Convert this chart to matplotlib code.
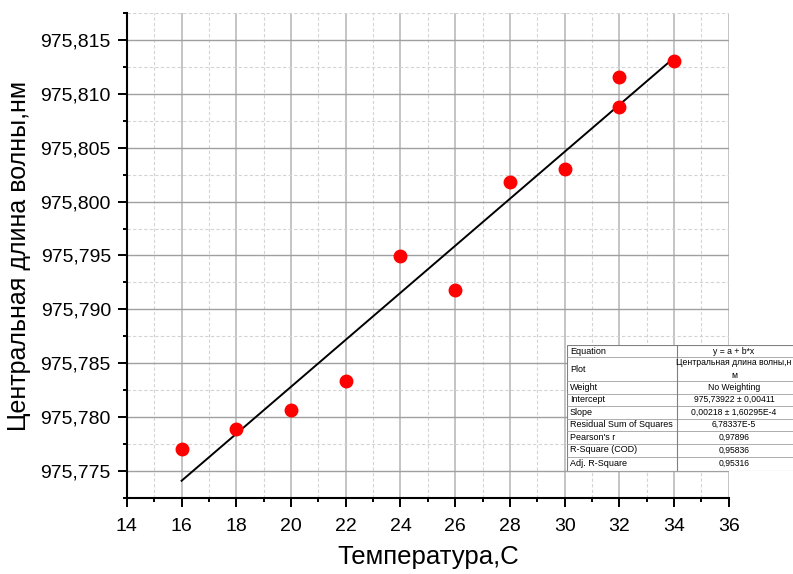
import numpy as np
import matplotlib
matplotlib.use("Agg")
from matplotlib import pyplot as plt
from matplotlib.ticker import MultipleLocator, FuncFormatter

plt.rcParams['font.family'] = ['Liberation Sans', 'DejaVu Sans']

# температура и центральная длина волны
temp = [16, 18, 20, 22, 24, 26, 28, 30, 32, 32, 34]
wavelength = [975.77704, 975.77889, 975.78068, 975.78340, 975.79494, 975.79176,
              975.80185, 975.80306, 975.81160, 975.80882, 975.81306]

# линейная аппроксимация y = a + b*x
intercept = 975.73922
slope = 0.00218

fit_rows = [
    ("Equation", "y = a + b*x"),
    ("Plot", "Центральная длина волны,н\nм"),
    ("Weight", "No Weighting"),
    ("Intercept", "975,73922 ± 0,00411"),
    ("Slope", "0,00218 ± 1,60295E-4"),
    ("Residual Sum of Squares", "6,78337E-5"),
    ("Pearson's r", "0,97896"),
    ("R-Square (COD)", "0,95836"),
    ("Adj. R-Square", "0,95316"),
]

fig = plt.figure(figsize=(7.93, 5.74), dpi=100)
ax = fig.add_axes([0.160, 0.1324, 0.759, 0.845])

ax.plot(temp, wavelength, 'o', color='red', markersize=9, zorder=3)
xf = np.array([min(temp), max(temp)])
ax.plot(xf, intercept + slope * xf, color='black', lw=1.4, zorder=2)

ax.set_xlim(14, 36)
ax.set_ylim(975.7725, 975.8175)
ax.xaxis.set_major_locator(MultipleLocator(2))
ax.xaxis.set_minor_locator(MultipleLocator(1))
ax.yaxis.set_major_locator(MultipleLocator(0.005))
ax.yaxis.set_minor_locator(MultipleLocator(0.0025))
ax.yaxis.set_major_formatter(FuncFormatter(lambda v, p: f"{v:.3f}".replace('.', ',')))

ax.xaxis.grid(True, which='major', color='#c4c4c4', lw=1.4)
ax.yaxis.grid(True, which='major', color='#a0a0a0', lw=1.0)
ax.grid(which='minor', color='#d4d4d4', lw=0.8, ls=(0, (3, 2)))
ax.set_axisbelow(True)

for s in ('top', 'right'):
    ax.spines[s].set_visible(False)
for s in ('left', 'bottom'):
    ax.spines[s].set_linewidth(1.5)

ax.tick_params(which='major', direction='out', length=6.5, width=1.4, labelsize=14)
ax.tick_params(axis='y', which='major', pad=5)
ax.tick_params(axis='x', which='major', pad=8)
ax.tick_params(which='minor', direction='out', length=3, width=1.4)

ax.set_xlabel("Температура,С", fontsize=18.5, labelpad=7)
ax.set_ylabel("Центральная длина волны,нм", fontsize=18, labelpad=7)

# таблица параметров аппроксимации
tx0, ty0, tw, th = 567, 345, 240, 126
tab = fig.add_axes([tx0 / 793, 1 - (ty0 + th) / 574, tw / 793, th / 574])
tab.set_xlim(0, tw)
tab.set_ylim(th, 0)
tab.axis('off')
tab.add_patch(plt.Rectangle((0, 0), tw, th, facecolor='white', edgecolor='#808080', lw=0.8))
col = 110
heights = [12, 24, 12.5, 12.5, 12.5, 12.5, 12.5, 13, 14.5]
y = 0
for (name, val), h in zip(fit_rows, heights):
    tab.text(3, y + h / 2, name, fontsize=6.5, va='center', ha='left')
    tab.text(col + 57, y + h / 2, val, fontsize=6.2, va='center', ha='center',
             linespacing=1.5)
    y += h
    tab.plot([0, tw], [y, y], color='#a0a0a0', lw=0.6)
tab.plot([col, col], [0, th], color='#808080', lw=0.8)

fig.savefig("out.png", dpi=100)
